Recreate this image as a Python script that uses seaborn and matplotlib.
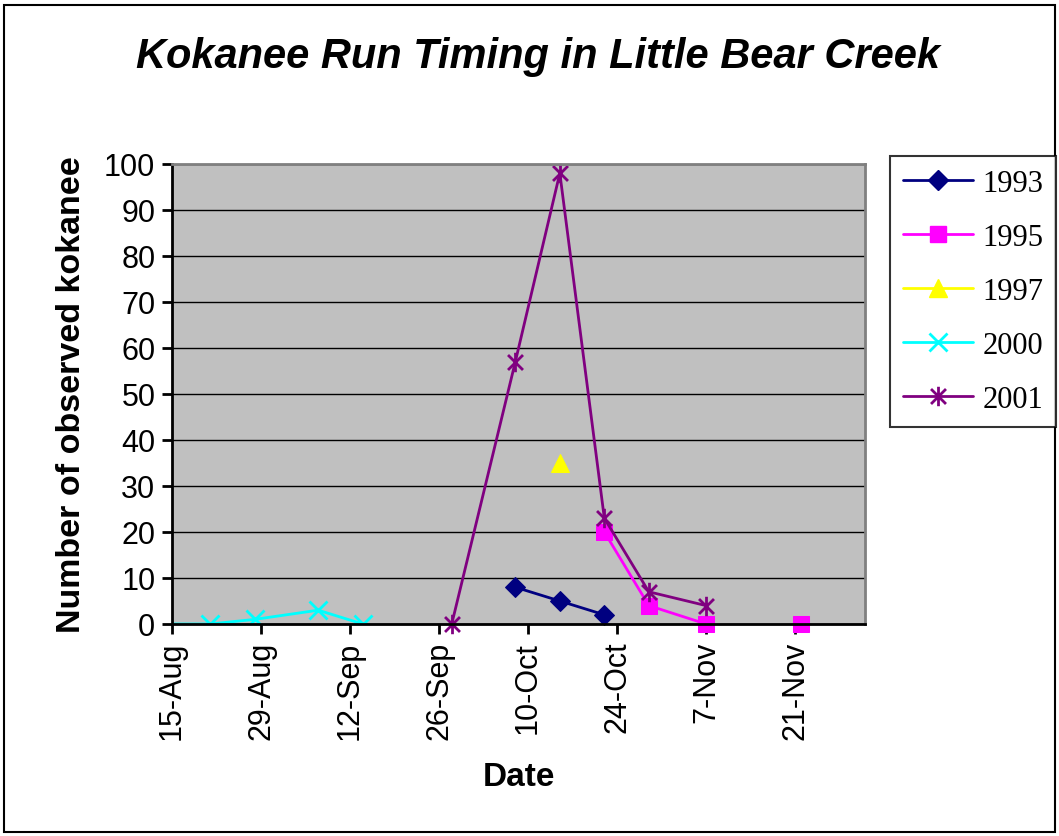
import numpy as np
import pandas as pd
import matplotlib
matplotlib.use("Agg")
import matplotlib.pyplot as plt
from matplotlib.path import Path
from matplotlib.patches import Rectangle
import seaborn as sns

# ---------------------------------------------------
# data (dates, year is arbitrary)
# ---------------------------------------------------
dates_1993 = ["2001-10-08", "2001-10-15", "2001-10-22"]
fish_1993 = [8, 5, 2]

dates_1995 = ["2001-10-22", "2001-10-29", "2001-11-07", "2001-11-22"]
fish_1995 = [20, 4, 0, 0]
seg_1995 = [0, 0, 0, 1]          # gap between 7-Nov and 22-Nov

dates_1997 = ["2001-10-15"]
fish_1997 = [35]

dates_2000 = ["2001-08-13", "2001-08-21", "2001-08-28", "2001-09-07", "2001-09-14"]
fish_2000 = [0, 0, 1, 3, 0]

dates_2001 = ["2001-09-28", "2001-10-08", "2001-10-15", "2001-10-22", "2001-10-29", "2001-11-07"]
fish_2001 = [0, 57, 98, 23, 7, 4]

tick_dates = ["2001-08-15", "2001-08-29", "2001-09-12", "2001-09-26",
              "2001-10-10", "2001-10-24", "2001-11-07", "2001-11-21"]
tick_labels = ["15-Aug", "29-Aug", "12-Sep", "26-Sep", "10-Oct", "24-Oct", "7-Nov", "21-Nov"]

# asterisk marker like excel's "*"
star = Path([(-1, -1), (1, 1), (-1, 1), (1, -1), (0, -1.3), (0, 1.3)],
            [Path.MOVETO, Path.LINETO, Path.MOVETO, Path.LINETO, Path.MOVETO, Path.LINETO])

series = [
    ("1993", dates_1993, fish_1993, None, "#000080", dict(marker="D", markersize=10)),
    ("1995", dates_1995, fish_1995, seg_1995, "#FF00FF", dict(marker="s", markersize=11)),
    ("1997", dates_1997, fish_1997, None, "#FFFF00", dict(marker="^", markersize=13)),
    ("2000", dates_2000, fish_2000, None, "#00FFFF", dict(marker="x", markersize=13, markeredgewidth=2)),
    ("2001", dates_2001, fish_2001, None, "#800080", dict(marker=star, markersize=14, markeredgewidth=2)),
]

sns.set_theme(style="white")
plt.rcParams["font.family"] = ["Liberation Sans", "DejaVu Sans"]
plt.rcParams["text.color"] = "black"
plt.rcParams["axes.labelcolor"] = "black"
plt.rcParams["xtick.color"] = "black"
plt.rcParams["ytick.color"] = "black"

fig = plt.figure(figsize=(10.59, 8.37), dpi=100)
fig.patch.set_facecolor("white")
fig.patches.append(Rectangle((0.004, 0.005), 0.992, 0.988, transform=fig.transFigure,
                             fill=False, edgecolor="black", linewidth=1.5))

ax = fig.add_axes([172 / 1059, 1 - 625 / 837, (865 - 172) / 1059, (625 - 165) / 837])
ax.set_facecolor("#C0C0C0")

handles = []
for name, d, v, seg, col, mk in series:
    df = pd.DataFrame({"date": pd.to_datetime(d), "fish": v,
                       "seg": seg if seg is not None else [0] * len(v)})
    sns.lineplot(data=df, x="date", y="fish", units="seg", estimator=None, ax=ax,
                 color=col, linewidth=2, markeredgecolor=col, markerfacecolor=col,
                 clip_on=(name == "2000"), **mk)
    h, = ax.plot([], [], color=col, linewidth=2, markeredgecolor=col,
                 markerfacecolor=col, **mk)
    handles.append((h, name))

ax.set_xlim(pd.Timestamp("2001-08-15"), pd.Timestamp("2001-12-02"))
ax.set_ylim(0, 100)
ax.set_yticks(range(0, 101, 10))
ax.set_xticks(pd.to_datetime(tick_dates))
ax.set_xticklabels(tick_labels, rotation=90)
ax.tick_params(axis="both", labelsize=22, length=7, width=2, color="black",
               direction="out", bottom=True, left=True, pad=5, labelcolor="black")
ax.yaxis.grid(True, color="black", linewidth=1)
ax.xaxis.grid(False)
ax.set_axisbelow(True)

for s in ["left", "bottom"]:
    ax.spines[s].set_color("black")
    ax.spines[s].set_linewidth(2)
for s in ["top", "right"]:
    ax.spines[s].set_color("#808080")
    ax.spines[s].set_linewidth(2)

ax.set_xlabel("Date", fontsize=24, fontweight="bold", labelpad=16)
ax.set_ylabel("Number of observed kokanee", fontsize=24.5, fontweight="bold", labelpad=12)
if ax.get_legend() is not None:
    ax.get_legend().remove()

fig.text(538 / 1059, 1 - 57 / 837, "Kokanee Run Timing in Little Bear Creek",
         ha="center", va="center", fontsize=30, fontweight="bold", fontstyle="italic")

leg = fig.legend([h for h, _ in handles], [n for _, n in handles],
                 loc="upper left", bbox_to_anchor=(890 / 1059, 1 - 157 / 837),
                 borderaxespad=0,
                 prop={"family": "Liberation Serif", "size": 22},
                 frameon=True, fancybox=False, edgecolor="black",
                 handlelength=2.3, labelspacing=0.82, borderpad=0.42, handletextpad=0.3)
leg.get_frame().set_linewidth(1.5)

fig.savefig("out.png", dpi=100)
